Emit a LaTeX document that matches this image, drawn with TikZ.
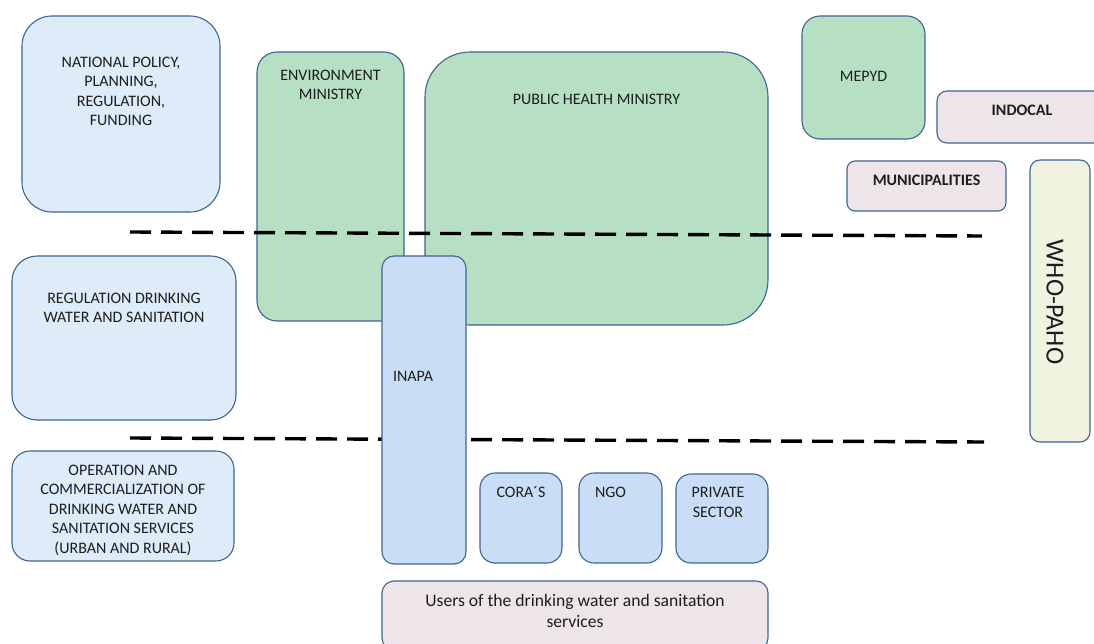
\documentclass[tikz,border=0pt]{standalone}
\usepackage{fontspec}
\setmainfont{Carlito}
\usetikzlibrary{arrows}
\definecolor{boxline}{HTML}{3E6590}
\definecolor{levelfill}{HTML}{DEEBF8}
\definecolor{inapafill}{HTML}{C9DEF6}
\definecolor{ministryfill}{HTML}{B6DFC4}
\definecolor{otherfill}{HTML}{EDE5EA}
\definecolor{whofill}{HTML}{F1F3E0}
\definecolor{txt}{HTML}{1E1E1E}

\begin{document}
\begin{tikzpicture}[x=1pt,y=-1pt,
  level node/.style={rectangle,draw=boxline,line width=1.1pt,fill=levelfill,inner sep=0pt},
  ministry node/.style={level node,fill=ministryfill},
  service node/.style={level node,fill=inapafill},
  other node/.style={level node,fill=otherfill},
  who node/.style={level node,fill=whofill},
  txt/.style={anchor=north,align=center,inner sep=0pt,text=txt,
    font=\fontsize{16}{19.6}\selectfont},
  mid txt/.style={txt,anchor=center},
  border line/.style={line width=3.4pt,dash pattern=on 21pt off 10pt}]

  \useasboundingbox (0,0) rectangle (1094,644);

  % levels
  \node[level node,rounded corners=30pt,minimum width=198,minimum height=196,
    label={[txt,yshift=-41pt]north:NATIONAL POLICY,\\PLANNING,\\REGULATION,\\FUNDING}]
    (11) at (121,114) {};
  \node[level node,rounded corners=25pt,minimum width=224,minimum height=164,
    label={[txt,yshift=-37pt]north:REGULATION DRINKING\\WATER AND SANITATION}]
    (21) at (124,338) {};
  \node[level node,rounded corners=18pt,minimum width=222,minimum height=110,
    label={[txt,yshift=-14pt]north:OPERATION AND\\COMMERCIALIZATION OF\\DRINKING WATER AND\\SANITATION SERVICES\\(URBAN AND RURAL)}]
    (31) at (123,506) {};

  % ministries
  \node[ministry node,rounded corners=20pt,minimum width=147,minimum height=269,
    label={[txt,yshift=-18pt]north:ENVIRONMENT\\MINISTRY}]
    (12) at (330.5,186.5) {};
  \node[ministry node,rounded corners=45pt,minimum width=343,minimum height=273,
    label={[txt,yshift=-42pt]north:PUBLIC HEALTH MINISTRY}]
    (13) at (596.5,188.5) {};
  \node[ministry node,rounded corners=18pt,minimum width=123,minimum height=123,
    label={[mid txt,yshift=1.5pt]center:MEPYD}]
    (14) at (863.5,77.5) {};
  \node[other node,rounded corners=10pt,minimum width=170,minimum height=52,
    label={[mid txt,yshift=7pt]center:\textbf{INDOCAL}}]
    (15) at (1022,117) {};
  \node[other node,rounded corners=8pt,minimum width=159,minimum height=50,
    label={[mid txt,yshift=6pt]center:\textbf{MUNICIPALITIES}}]
    (16) at (926.5,186) {};
  \node[who node,rounded corners=10pt,minimum width=60,minimum height=282,
    label={[mid txt,rotate=-90,xshift=1pt,yshift=-5pt,font=\fontsize{26}{30}\selectfont]center:WHO-PAHO}]
    (17) at (1060,301) {};

  % borders between levels
  \coordinate (b1l) at (130,232);
  \coordinate (b1r) at (982,236);
  \coordinate (b2l) at (130,438);
  \coordinate (b2r) at (984,442);
  \draw[border line] (b1l) -- (b1r);
  \draw[border line] (b2l) -- (b2r);

  % operators
  \node[service node,rounded corners=12pt,minimum width=84,minimum height=308,
    label={[mid txt,xshift=-11pt,yshift=34pt]center:INAPA}]
    (22) at (424,410) {};
  \node[service node,rounded corners=15pt,minimum width=82,minimum height=90,
    label={[txt,yshift=-14pt]north:CORA\textasciiacute S}]
    (32) at (521,518) {};
  \node[service node,rounded corners=15pt,minimum width=83,minimum height=90,
    label={[txt,xshift=-10pt,yshift=-14pt]north:NGO}]
    (33) at (620.5,518) {};
  \node[service node,rounded corners=15pt,minimum width=92,minimum height=89,
    label={[txt,xshift=-4pt,yshift=-14pt]north:PRIVATE\\SECTOR}]
    (34) at (722,518.5) {};
  \node[other node,rounded corners=12pt,minimum width=386,minimum height=69,
    label={[mid txt,yshift=5pt,font=\fontsize{17.6}{21}\selectfont]center:Users of the drinking water and sanitation\\services}]
    (41) at (575,615.5) {};
\end{tikzpicture}
\end{document}
